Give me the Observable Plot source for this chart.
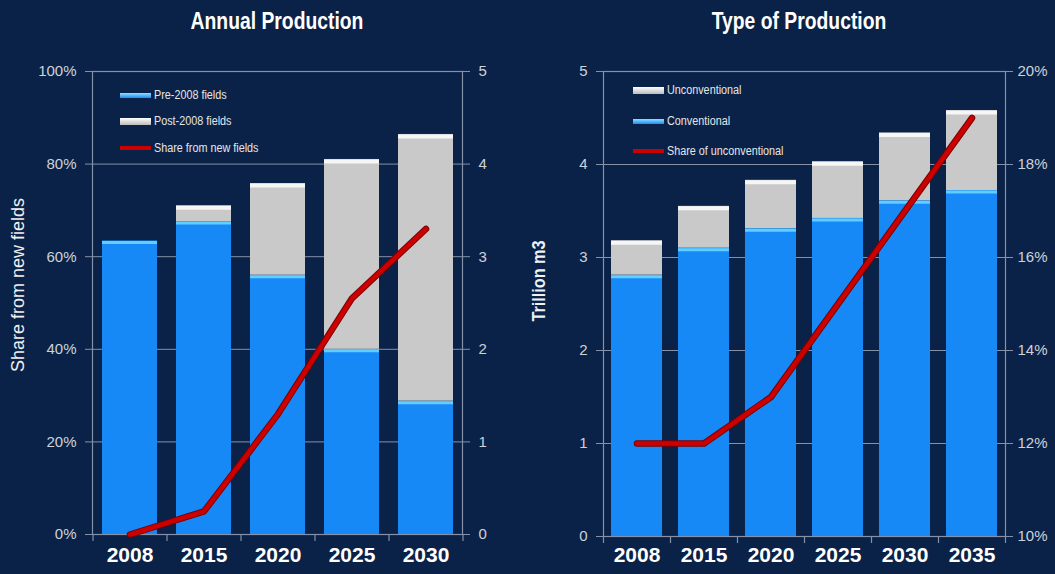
<!DOCTYPE html>
<html><head><meta charset="utf-8">
<script src="https://cdn.jsdelivr.net/npm/d3@7"></script>
<script src="https://cdn.jsdelivr.net/npm/@observablehq/plot@0.6"></script>
<style>
body{margin:0;background:#0b2248;}
#wrap{position:relative;width:1055px;height:574px;background:#0b2248;overflow:hidden;font-family:"Liberation Sans Narrow","Arial Narrow","Liberation Sans",sans-serif;}
.title{position:absolute;top:9px;color:#fff;font-weight:bold;font-size:21px;transform:translateX(-50%) scale(0.92,1.12);white-space:nowrap;}
.ytitle{position:absolute;color:#f0f0f0;font-family:"Liberation Sans",Arial,sans-serif;font-size:18px;white-space:nowrap;transform:translate(-50%,-50%) rotate(-90deg);}
.leg{position:absolute;font-size:12px;color:#e6e6e6;white-space:nowrap;line-height:14px;transform-origin:0 50%;transform:scaleX(0.9);}
.sw{position:absolute;width:31px;}
.plot{position:absolute;top:0;}
</style></head><body>
<div id="wrap">
  <div class="title" style="left:277px">Annual Production</div>
  <div class="title" style="left:799px">Type of Production</div>
  <div class="ytitle" style="left:18px;top:285px">Share from new fields</div>
  <div class="ytitle" style="left:539px;top:281px;font-weight:bold;transform:translate(-50%,-50%) rotate(-90deg) scaleX(0.9)">Trillion m3</div>
  <div id="left" class="plot" style="left:0"></div>
  <div id="right" class="plot" style="left:527px"></div>
</div>
<script>
// ---------- data ----------
const leftYears = ["2008", "2015", "2020", "2025", "2030"];
const leftPre = [3.17, 3.38, 2.80, 2.00, 1.44];     // Trillion m3, Pre-2008 fields
const leftPost = [0, 0.17, 0.99, 2.05, 2.88];       // Trillion m3, Post-2008 fields
const leftShare = [0, 5, 26, 51, 66];               // % share from new fields
const leftPctTicks = [0, 20, 40, 60, 80, 100];
const leftSeries = ["Pre-2008 fields", "Post-2008 fields", "Share from new fields"];

const rightYears = ["2008", "2015", "2020", "2025", "2030", "2035"];
const rightConv = [2.81, 3.10, 3.31, 3.42, 3.61, 3.72];   // Trillion m3
const rightUnconv = [0.37, 0.45, 0.52, 0.61, 0.73, 0.86]; // Trillion m3
const rightShare = [12, 12, 13, 15, 17, 19];              // % share of unconventional
const rightTicks = [0, 1, 2, 3, 4, 5];
const rightSeries = ["Unconventional", "Conventional", "Share of unconventional"];

// ---------- style ----------
const BLUE = "#1689f7", BLUE_HI = "#62cdff", GRAY = "#c9c9c9", GRAY_HI = "#f6f6f6", RED = "#cc0000";
const GRID = "#8491a8", TICKTXT = "#cdd2da";
const FONT = '"Liberation Sans Narrow","Arial Narrow","Liberation Sans",sans-serif';

// ---------- left chart ----------
const lk = 20; // 5 units on right axis == 100% on left axis
const leftRows = leftYears.flatMap((y, i) => [
  {year: y, series: leftSeries[0], v: leftPre[i]},
  {year: y, series: leftSeries[1], v: leftPost[i]}
]);
const leftTot = leftYears.map((y, i) => ({year: y, pre: leftPre[i], post: leftPost[i], tot: leftPre[i] + leftPost[i], share: leftShare[i]}));
const lStep = (527 - 92 - 65) / leftYears.length;

const leftPlot = Plot.plot({
  width: 527, height: 574,
  marginLeft: 92, marginRight: 65, marginTop: 71, marginBottom: 40,
  style: {background: "transparent", fontFamily: FONT, color: TICKTXT},
  x: {domain: leftYears, paddingInner: 0.26, paddingOuter: 0.13, axis: null},
  y: {domain: [0, 100], axis: null},
  color: {domain: leftSeries.slice(0, 2), range: [BLUE, GRAY]},
  marks: [
    Plot.ruleY(leftPctTicks, {stroke: GRID, strokeWidth: 1}),
    Plot.frame({stroke: GRID, strokeWidth: 1.2}),
    Plot.barY(leftRows, {x: "year", y: d => d.v * lk, fill: "series"}),
    Plot.tickY(leftTot, {x: "year", y: d => d.pre * lk, stroke: BLUE_HI, strokeWidth: 3, dy: 1.5}),
    Plot.tickY(leftTot.filter(d => d.post > 0), {x: "year", y: d => d.tot * lk, stroke: GRAY_HI, strokeWidth: 4, dy: 2}),
    Plot.line(leftTot, {x: "year", y: "share", stroke: "#7a0000", strokeWidth: 6.5, strokeLinejoin: "round", strokeLinecap: "round"}),
    Plot.line(leftTot, {x: "year", y: "share", stroke: RED, strokeWidth: 4.5, strokeLinejoin: "round", strokeLinecap: "round"}),
    Plot.ruleX(leftYears, {x: d => d, y1: 0, y2: -1.5, dx: -lStep / 2, stroke: GRID, strokeWidth: 1.2}),
    Plot.ruleX(leftYears.slice(-1), {x: d => d, y1: 0, y2: -1.5, dx: lStep / 2, stroke: GRID, strokeWidth: 1.2}),
    Plot.axisX({tickSize: 0, tickPadding: 13, fontSize: 21, fontWeight: "bold", fill: "#ffffff", label: null}),
    Plot.axisY({anchor: "left", ticks: leftPctTicks, tickFormat: d => d + "%", tickSize: 7, tickPadding: 9, stroke: GRID, fill: TICKTXT, fontSize: 15, label: null}),
    Plot.axisY({anchor: "right", ticks: leftPctTicks, tickFormat: d => String(d / lk), tickSize: 7, tickPadding: 9, stroke: GRID, fill: TICKTXT, fontSize: 15, label: null})
  ]
});
document.getElementById("left").appendChild(leftPlot);

// ---------- right chart ----------
const pctToUnit = p => (p - 10) / 2; // right axis 10%..20% over 0..5
const rightRows = rightYears.flatMap((y, i) => [
  {year: y, series: rightSeries[1], v: rightConv[i]},
  {year: y, series: rightSeries[0], v: rightUnconv[i]}
]);
const rightTot = rightYears.map((y, i) => ({year: y, conv: rightConv[i], tot: rightConv[i] + rightUnconv[i], share: rightShare[i]}));
const rStep = (528 - 76 - 50) / rightYears.length;

const rightPlot = Plot.plot({
  width: 528, height: 574,
  marginLeft: 76, marginRight: 50, marginTop: 71, marginBottom: 38,
  style: {background: "transparent", fontFamily: FONT, color: TICKTXT},
  x: {domain: rightYears, paddingInner: 0.24, paddingOuter: 0.12, axis: null},
  y: {domain: [0, 5], axis: null},
  color: {domain: [rightSeries[1], rightSeries[0]], range: [BLUE, GRAY]},
  marks: [
    Plot.ruleY(rightTicks, {stroke: GRID, strokeWidth: 1}),
    Plot.frame({stroke: GRID, strokeWidth: 1.2}),
    Plot.barY(rightRows, {x: "year", y: "v", fill: "series"}),
    Plot.tickY(rightTot, {x: "year", y: "conv", stroke: BLUE_HI, strokeWidth: 3, dy: 1.5}),
    Plot.tickY(rightTot, {x: "year", y: "tot", stroke: GRAY_HI, strokeWidth: 4, dy: 2}),
    Plot.line(rightTot, {x: "year", y: d => pctToUnit(d.share), stroke: "#7a0000", strokeWidth: 6.5, strokeLinejoin: "round", strokeLinecap: "round"}),
    Plot.line(rightTot, {x: "year", y: d => pctToUnit(d.share), stroke: RED, strokeWidth: 4.5, strokeLinejoin: "round", strokeLinecap: "round"}),
    Plot.ruleX(rightYears, {x: d => d, y1: 0, y2: -0.075, dx: -rStep / 2, stroke: GRID, strokeWidth: 1.2}),
    Plot.ruleX(rightYears.slice(-1), {x: d => d, y1: 0, y2: -0.075, dx: rStep / 2, stroke: GRID, strokeWidth: 1.2}),
    Plot.axisX({tickSize: 0, tickPadding: 11, fontSize: 21, fontWeight: "bold", fill: "#ffffff", label: null}),
    Plot.axisY({anchor: "left", ticks: rightTicks, tickFormat: d => String(d), tickSize: 7, tickPadding: 9, stroke: GRID, fill: TICKTXT, fontSize: 15, label: null}),
    Plot.axisY({anchor: "right", ticks: rightTicks, tickFormat: d => (10 + 2 * d) + "%", tickSize: 7, tickPadding: 5, stroke: GRID, fill: TICKTXT, fontSize: 15, label: null})
  ]
});
document.getElementById("right").appendChild(rightPlot);

// ---------- legends (HTML) ----------
const wrap = document.getElementById("wrap");
function legend(x, ys, items) {
  items.forEach((it, i) => {
    const sw = document.createElement("div");
    sw.className = "sw";
    sw.style.left = x + "px";
    sw.style.top = (ys[i] - it.h / 2) + "px";
    sw.style.height = it.h + "px";
    sw.style.background = it.bg;
    wrap.appendChild(sw);
    const t = document.createElement("div");
    t.className = "leg";
    t.style.left = (x + 34) + "px";
    t.style.top = (ys[i] - 7) + "px";
    t.textContent = it.label;
    wrap.appendChild(t);
  });
}
const blueSw = "linear-gradient(#8fe0ff, #1a8cf8)";
const graySw = "linear-gradient(#ffffff, #bcbcbc)";
legend(120, [95, 121, 148], [
  {label: leftSeries[0], bg: blueSw, h: 5},
  {label: leftSeries[1], bg: graySw, h: 7},
  {label: leftSeries[2], bg: RED, h: 4}
]);
legend(633, [90, 121, 151], [
  {label: rightSeries[0], bg: graySw, h: 7},
  {label: rightSeries[1], bg: blueSw, h: 5},
  {label: rightSeries[2], bg: RED, h: 4}
]);
</script>
</body></html>
